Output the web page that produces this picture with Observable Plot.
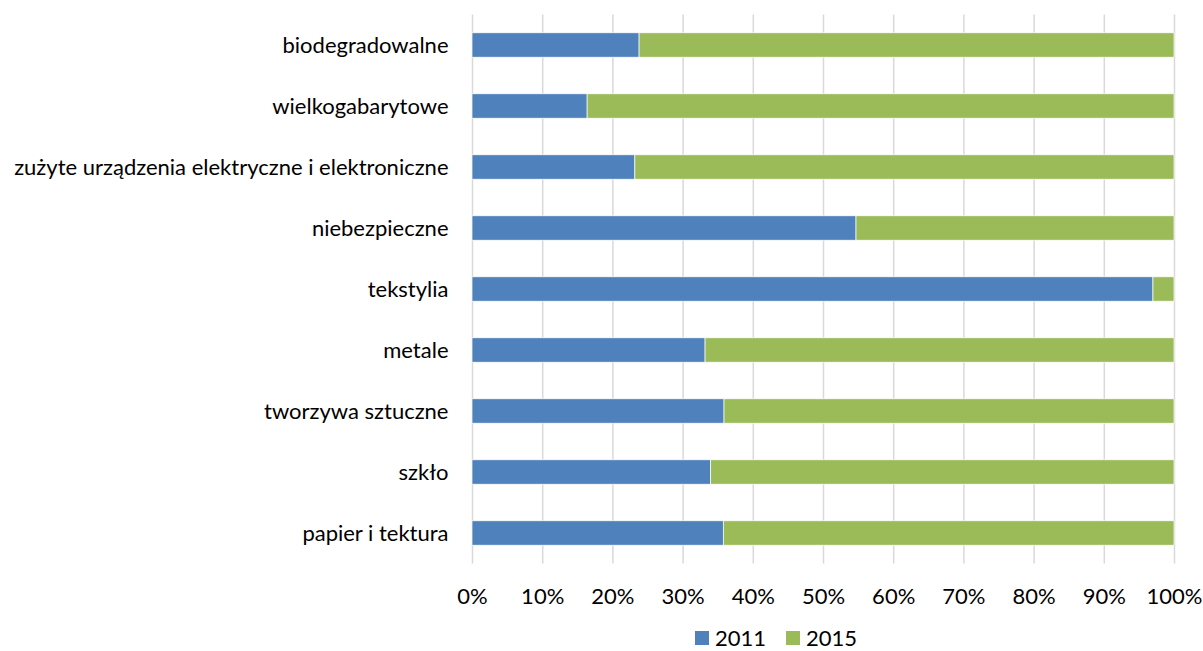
<!DOCTYPE html>
<html>
<head>
<meta charset="utf-8">
<script src="https://cdn.jsdelivr.net/npm/d3@7"></script>
<script src="https://cdn.jsdelivr.net/npm/@observablehq/plot@0.6"></script>
<style>
  html, body { margin: 0; padding: 0; background: #fff; }
  #chart { width: 1203px; height: 651px; position: relative; overflow: hidden; font-family: Lato, "Open Sans", sans-serif; }
  #legend { position: absolute; left: 695px; top: 628px; display: flex; font-size: 22px; line-height: 20px; color: #000; }
  .item { display: flex; align-items: center; margin-right: 20px; }
  .sw { width: 14px; height: 14px; display: inline-block; margin-right: 6px; }
</style>
</head>
<body>
<div id="chart"></div>
<script>
const categories = [
  "biodegradowalne",
  "wielkogabarytowe",
  "zużyte urządzenia elektryczne i elektroniczne",
  "niebezpieczne",
  "tekstylia",
  "metale",
  "tworzywa sztuczne",
  "szkło",
  "papier i tektura"
];
const series = ["2011", "2015"];
const share2011 = [23.8, 16.4, 23.2, 54.7, 97.0, 33.2, 35.9, 34.0, 35.8];
const share2015 = [76.2, 83.6, 76.8, 45.3, 3.0, 66.8, 64.1, 66.0, 64.2];
const colors = ["#4F81BD", "#9BBB59"];
const xTicks = [0, 10, 20, 30, 40, 50, 60, 70, 80, 90, 100];

const data = [];
categories.forEach((c, i) => {
  data.push({category: c, year: series[0], value: share2011[i]});
  data.push({category: c, year: series[1], value: share2015[i]});
});

const chart = Plot.plot({
  width: 1203,
  height: 625,
  marginLeft: 472,
  marginRight: 29,
  marginTop: 14.5,
  marginBottom: 61.5,
  style: {fontFamily: "Lato, 'Open Sans', sans-serif", fontSize: "22px", color: "#000", background: "#fff"},
  x: {domain: [0, 100], ticks: xTicks, tickFormat: d => d + "%", label: null},
  y: {domain: categories, paddingInner: 0.6, paddingOuter: 0.3, round: false, label: null},
  color: {domain: series, range: colors},
  marks: [
    Plot.gridX(xTicks, {stroke: "#d9d9d9", strokeOpacity: 1, strokeWidth: 1.5}),
    Plot.barX(data, Plot.stackX({x: "value", y: "category", fill: "year", order: series, stroke: "#fff", strokeWidth: 0.7})),
    Plot.axisX(xTicks, {tickSize: 0, tickPadding: 24, tickFormat: d => d + "%", fontSize: 22, label: null}),
    Plot.axisY({tickSize: 0, tickPadding: 24, fontSize: 22, label: null})
  ]
});
document.getElementById("chart").appendChild(chart);

const legend = document.createElement("div");
legend.id = "legend";
series.forEach((s, i) => {
  const item = document.createElement("div");
  item.className = "item";
  const sw = document.createElement("span");
  sw.className = "sw";
  sw.style.background = colors[i];
  item.appendChild(sw);
  item.appendChild(document.createTextNode(s));
  legend.appendChild(item);
});
document.getElementById("chart").appendChild(legend);
</script>
</body>
</html>
